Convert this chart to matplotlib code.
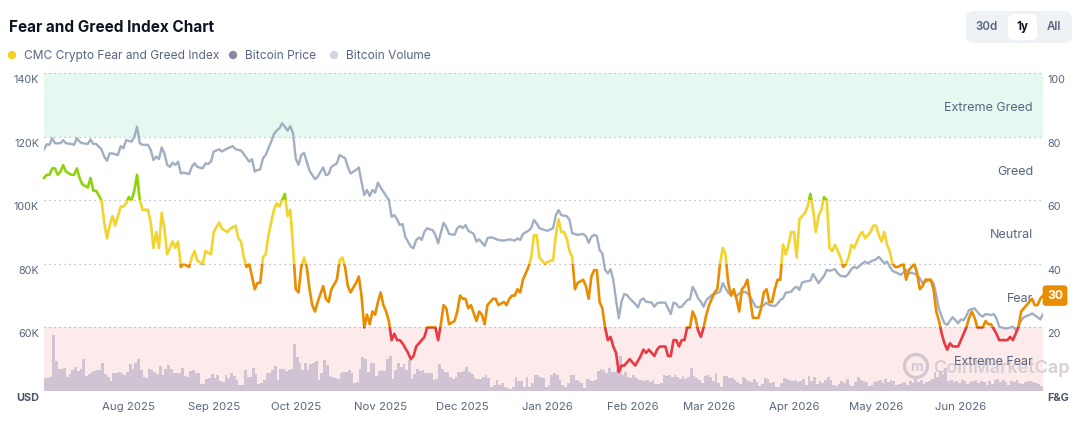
import matplotlib
matplotlib.use("Agg")
import matplotlib.pyplot as plt
import matplotlib.transforms as mtransforms
from matplotlib.patches import Rectangle, FancyBboxPatch, Circle, Ellipse
import pandas as pd

plt.rcParams['font.family'] = ['Inter', 'DejaVu Sans']

# ---------------- data ----------------
START = "2025-07-01"
END = "2026-07-01"

FG_DAY = [0, 1, 2, 3, 4, 5, 6, 7, 8, 10, 11, 12, 13, 14, 16, 17, 18, 19, 21, 22, 23, 24, 25, 26, 28, 29, 30, 31, 32, 33,
          34, 35, 36, 38, 39, 40, 41, 42, 43, 44, 45, 47, 48, 49, 50, 51, 53, 54, 55, 56, 58, 59, 61, 62, 64, 65, 67, 68,
          70, 71, 72, 73, 74, 75, 77, 78, 79, 80, 81, 82, 84, 85, 86, 87, 88, 89, 90, 91, 92, 93, 94, 95, 96, 97, 98, 99,
          100, 102, 103, 104, 105, 107, 108, 109, 110, 111, 112, 114, 115, 116, 117, 118, 119, 120, 121, 122, 123, 124,
          125, 126, 127, 128, 129, 130, 131, 133, 134, 135, 136, 137, 139, 140, 141, 143, 144, 145, 146, 147, 148, 150,
          151, 152, 153, 154, 155, 156, 158, 159, 160, 161, 162, 163, 164, 165, 166, 168, 169, 170, 171, 172, 173, 174,
          175, 177, 178, 179, 180, 181, 182, 183, 185, 186, 187, 188, 189, 190, 191, 192, 193, 194, 195, 197, 198, 199,
          200, 201, 202, 203, 204, 205, 206, 207, 208, 209, 210, 211, 212, 213, 214, 215, 216, 218, 219, 220, 221, 222,
          223, 224, 225, 227, 228, 229, 230, 231, 232, 233, 234, 235, 236, 237, 238, 239, 240, 241, 242, 243, 244, 245,
          246, 247, 248, 249, 250, 251, 252, 253, 254, 255, 256, 257, 258, 259, 260, 261, 262, 263, 264, 265, 266, 267,
          268, 269, 270, 271, 272, 273, 274, 275, 276, 277, 278, 279, 280, 281, 282, 283, 284, 285, 286, 287, 288, 289,
          291, 292, 293, 294, 295, 296, 297, 298, 299, 300, 301, 302, 303, 304, 305, 306, 307, 308, 309, 310, 311, 312,
          314, 315, 316, 317, 318, 319, 320, 321, 322, 324, 325, 326, 327, 328, 329, 330, 331, 332, 334, 335, 336, 337,
          338, 339, 340, 341, 343, 344, 345, 346, 348, 349, 351, 352, 353, 354, 355, 356, 357, 358, 359, 360, 361, 362,
          363, 364, 365]
FG_VAL = [67, 68, 68, 70, 70, 68, 69, 71, 69, 68, 68, 70, 67, 65, 64, 67, 63, 63, 60, 53, 48, 52, 55, 52, 58, 58, 59, 61, 60, 63,
          68, 60, 57, 57, 53, 45, 50, 45, 56, 51, 43, 47, 45, 47, 39, 40, 39, 42, 44, 41, 40, 44, 43, 50, 53, 51, 50, 51,
          52, 48, 47, 42, 39, 40, 32, 34, 34, 42, 43, 49, 57, 59, 58, 60, 62, 55, 57, 45, 32, 31, 39, 42, 39, 32, 27, 25,
          28, 33, 29, 28, 32, 35, 41, 42, 39, 33, 31, 34, 36, 30, 20, 24, 21, 25, 24, 28, 31, 27,
          25, 22, 16, 18, 16, 16, 15, 12, 10, 11, 14, 15, 17, 20, 20, 20, 16, 21, 27, 26, 21, 22,
          25, 30, 29, 29, 26, 27, 22, 25, 24, 21, 27, 28, 29, 29, 27, 28, 27, 29, 30, 30, 32, 31,
          35, 39, 42, 49, 49, 42, 41, 40, 41, 41, 49, 54, 50, 50, 48, 44, 42, 32, 34, 35, 33, 29,
          36, 38, 38, 28, 26, 20, 16, 17, 14, 12, 6, 8, 8, 9, 10, 9, 8, 11, 13, 12, 13, 12,
          11, 13, 14, 14, 11, 11, 16, 16, 14, 16, 16, 20, 20, 25, 23, 19, 17, 20, 24, 27, 29, 31,
          32, 40, 45, 43, 34, 30, 32, 29, 25, 32, 33, 35, 29, 23, 23, 23, 26, 31, 32, 28, 28, 32,
          35, 35, 46, 43, 46, 50, 50, 42, 54, 55, 56, 58, 62, 57, 50, 55, 57, 61, 60, 45, 44, 46,
          42, 39, 40, 42, 46, 45, 47, 49, 50, 48, 49, 50, 52, 52, 49, 47, 50, 46, 44, 40, 39, 39,
          40, 35, 38, 39, 40, 37, 32, 33, 35, 35, 32, 25, 22, 18, 15, 13, 15, 14, 14, 16, 18, 20,
          23, 25, 23, 20, 20, 22, 21, 21, 18, 16, 16, 16, 17, 16, 18, 20, 25, 26, 27, 28, 29, 27,
          27, 29, 30]

PRICE_DAY = [0, 1, 2, 3, 4, 6, 7, 8, 10, 11, 12, 13, 14, 16, 17, 18, 19, 21, 22, 23, 24, 25, 27, 28, 29, 30, 32, 33, 34, 35,
             36, 38, 39, 40, 41, 42, 43, 44, 45, 46, 47, 48, 49, 50, 51, 53, 54, 55, 56, 58, 59, 60, 61, 62, 64, 65, 67,
             69, 70, 72, 73, 75, 76, 77, 78, 79, 80, 81, 83, 84, 85, 86, 87, 88, 89, 90, 91, 92, 93, 94, 95, 96, 97, 99,
             100, 102, 103, 104, 105, 107, 108, 110, 111, 112, 114, 115, 116, 117, 118, 119, 120, 121, 122, 123, 125,
             126, 127, 128, 129, 130, 131, 132, 134, 135, 136, 137, 138, 139, 140, 141, 142, 143, 144, 145, 146, 147,
             148, 150, 151, 152, 153, 154, 155, 157, 158, 159, 161, 162, 163, 164, 166, 168, 170, 172, 173, 174, 175,
             177, 178, 179, 180, 181, 183, 184, 186, 187, 188, 189, 191, 192, 193, 195, 197, 198, 199, 200, 201, 202,
             203, 204, 205, 206, 207, 208, 209, 210, 211, 212, 213, 214, 216, 217, 218, 219, 220, 222, 223, 224, 225,
             227, 228, 229, 230, 231, 232, 233, 235, 236, 237, 238, 239, 240, 241, 242, 244, 245, 247, 248, 250, 251,
             252, 253, 254, 256, 257, 258, 260, 261, 263, 264, 265, 267, 268, 269, 270, 271, 273, 274, 275, 276, 277,
             278, 280, 281, 283, 284, 285, 286, 287, 289, 290, 291, 293, 294, 295, 296, 297, 299, 300, 301, 302, 304,
             305, 306, 307, 308, 309, 310, 312, 313, 315, 316, 317, 319, 320, 321, 323, 324, 325, 326, 327, 328, 329,
             330, 331, 332, 334, 335, 336, 337, 338, 340, 341, 342, 343, 344, 346, 347, 348, 349, 351, 352, 354, 355,
             356, 357, 358, 360, 361, 363, 364, 365]
PRICE_K = [116.0, 117.6, 117.4, 119.5, 117.9, 117.9, 118.9, 117.9, 117.7, 117.4, 119.5, 118.4, 117.9, 117.7, 119.1, 117.7,
           117.7, 116.0, 113.7, 112.4, 114.7, 114.7, 114.2, 117.0, 116.3, 118.9, 118.4, 120.0, 123.1, 117.9,
           117.4, 117.4, 115.8, 112.6, 113.7, 112.9, 116.6, 114.7, 111.1, 110.5, 111.8, 111.1, 112.1, 108.4, 108.7,
           108.2, 110.5, 111.6, 110.5, 110.0, 111.6, 111.4, 112.1, 115.3, 116.0, 115.3, 116.3,
           117.0, 116.0, 115.6, 114.5, 112.1, 112.9, 109.0, 109.5, 109.7, 113.2, 114.2, 118.4, 120.8, 121.9, 122.6,
           124.2, 123.1, 121.9, 123.3, 121.0, 113.0, 111.1, 114.2, 114.9, 112.1, 109.3, 106.6,
           107.4, 110.3, 107.9, 108.2, 110.5, 111.6, 114.2, 113.2, 110.5, 108.4, 109.5, 110.3, 105.8, 101.6, 103.2,
           101.3, 103.2, 102.4, 105.5, 104.0, 101.3,
           100.1, 94.8, 95.3, 94.0, 92.2, 92.5, 88.5, 85.4, 84.9, 87.5, 88.3, 87.5, 90.1, 91.2, 90.8, 90.6, 89.1,
           86.4, 89.8, 92.9, 91.5,
           89.4, 89.1, 91.2, 91.9, 91.2, 92.2, 90.4, 89.4, 87.0, 87.7, 85.6, 88.0, 88.3, 88.2, 87.5, 87.3, 87.7,
           87.3, 88.0, 87.5, 89.4,
           90.4, 91.2, 93.8, 92.7, 91.2, 90.6, 90.4, 91.2, 95.3, 96.9, 95.3, 95.0, 93.8, 89.6, 89.1, 89.4, 88.7,
           86.6, 88.5, 89.1, 88.7,
           84.3, 83.3, 78.1, 77.0, 78.3, 74.9, 68.6, 62.9, 68.1, 70.5, 70.2, 69.1, 67.4, 66.3, 68.6, 69.1, 68.1,
           67.8, 66.5, 67.6, 67.8,
           67.8, 66.0, 64.2, 67.8, 67.4, 66.3, 66.5, 68.6, 68.8, 72.8, 71.2, 69.1, 68.1, 66.5, 68.6, 70.2, 70.5,
           71.2, 73.9, 70.9, 70.2,
           70.7, 69.7, 70.7, 71.2, 70.7, 69.7, 66.5, 66.3, 67.0, 67.8, 67.0, 66.7, 67.4, 68.6, 69.1, 70.9, 71.2,
           72.3, 72.8, 71.8, 74.1,
           74.4, 74.7, 76.8, 73.9, 75.1, 76.2, 78.1, 77.8, 78.3, 77.0, 76.2, 76.0, 77.0, 78.3, 79.1, 78.6, 80.1,
           80.7, 80.1, 80.7, 81.4,
           82.2, 81.2, 80.1, 80.7, 79.1, 77.8, 77.0, 76.5, 78.1, 77.0, 77.2, 76.5, 75.4, 73.9, 74.7, 74.9, 73.9,
           70.2, 65.7, 63.4, 61.3,
           60.8, 62.1, 63.2, 61.3, 62.5, 62.3, 63.6, 65.5, 66.0, 64.9, 63.9, 63.4, 64.2, 63.9, 64.2, 62.9, 60.2,
           59.7, 59.7, 60.2, 59.2,
           60.2, 62.1, 63.2, 63.9, 64.4, 63.2, 62.5, 64.2]

# daily Bitcoin volume (billion USD), one value per day from START
VOLUME_Q3_2025 = [19, 20, 21.5, 84, 45, 32.5, 32.5, 34, 21.5, 25.5, 31.5, 35.5, 30, 32.5, 48, 22.5, 25, 28.5, 30, 31.5,
                  31.5, 41.5, 25.5, 21.5, 15, 27.5, 26.5, 28.5, 27.5, 23.5, 28, 40.5, 33, 42, 48, 31.5, 20.5, 19.5,
                  33, 31.5, 29, 25, 37.5, 24, 33, 38.5, 32.5, 27.5, 26.5, 26.5, 34.5, 22.5, 21.5, 30, 31.5, 27.5,
                  27.5, 10.5, 10.5, 17.5, 19, 25, 19, 24, 15.5, 14, 24.5, 20, 27.5, 22.5, 16.5, 9, 9, 31.5, 21.5,
                  21.5, 34, 25.5, 10.5, 12.5, 16.5, 27.5, 27.5, 31.5, 37.5, 16.5, 33, 33, 30.5, 31.5, 32.5, 70.5]
VOLUME_Q4_2025 = [50.5, 41.5, 31.5, 42.5, 31.5, 40.5, 41.5, 45, 16.5, 27.5, 46.5, 39, 22.5, 21.5, 20, 18, 26.5, 28,
                  28.5, 31.5, 27.5, 11.5, 14, 32.5, 51.5, 47.5, 29, 42.5, 41.5, 22.5, 29.5, 31.5, 30.5, 47.5, 52.5,
                  17.5, 31.5, 41.5, 35.5, 40.5, 31.5, 46.5, 17.5, 25.5, 32.5, 30.5, 31.5, 26.5, 27.5, 26.5, 16.5,
                  17.5, 40.5, 33, 29, 29, 21.5, 17.5, 21.5, 29, 28, 30.5, 35.5, 29, 25.5, 19, 17.5, 17.5, 21.5, 24,
                  19, 5.5, 9, 16.5, 9, 11.5, 6.5, 4, 2.5, 5.5, 20.5, 15.5, 15, 5.5, 21.5, 5.5, 11.5, 24, 24, 21.5, 19]
VOLUME_Q1_2026 = [5.5, 9, 24, 26.5, 24, 16.5, 9, 5.5, 11.5, 24, 24, 16.5, 15.5, 11.5, 4, 17.5, 16.5, 15.5, 16.5, 30,
                  32.5, 31.5, 26.5, 34, 29, 29, 32.5, 52.5, 24, 29, 21.5, 19, 24, 19, 16.5, 16.5, 15.5, 16.5, 14,
                  16.5, 10.5, 10.5, 12.5, 24, 22.5, 24, 21.5, 24, 21.5, 17.5, 22.5, 17.5, 21.5, 34, 22.5, 19, 16.5,
                  11.5, 22.5, 24, 21.5, 15.5, 26.5, 11.5, 5.5, 22.5, 22.5, 19, 19, 16.5, 14, 10.5, 21.5, 17.5, 15.5,
                  14, 17.5, 14, 7.5, 10.5, 19, 17.5, 11.5, 14, 5.5, 6.5, 11.5, 19, 17.5, 16.5, 15.5, 16.5]
VOLUME_Q2_2026 = [13, 15.5, 18, 9.5, 23, 15.5, 20.5, 10.5, 15.5, 11.5, 16.5, 20.5, 16.5, 9.5, 8, 10.5, 15.5, 11.5,
                  18, 9.5, 8, 13, 20.5, 16.5, 15.5, 13, 8, 9.5, 13, 14.5, 16.5, 11.5, 18, 13, 16.5, 15.5, 9.5,
                  10.5, 11.5, 13, 9.5, 14.5, 11.5, 18, 13, 16.5, 10.5, 13, 15.5, 18, 28, 21.5, 30.5, 25.5, 34.5,
                  15.5, 16.5, 13, 15.5, 11.5, 16.5, 14.5, 10.5, 13, 15.5, 16.5, 11.5, 15.5, 13, 9.5, 15.5, 10.5,
                  16.5, 18, 13, 16.5, 13, 9.5, 15.5, 13, 16.5, 11.5, 10.5, 13, 15.5, 14.5, 13, 11.5, 10.5, 8]

MONTH_TICKS = ["2025-08-01", "2025-09-01", "2025-10-01", "2025-11-01", "2025-12-01", "2026-01-01",
               "2026-02-01", "2026-03-01", "2026-04-01", "2026-05-01", "2026-06-01"]
MONTH_LABELS = ["Aug 2025", "Sep 2025", "Oct 2025", "Nov 2025", "Dec 2025", "Jan 2026",
                "Feb 2026", "Mar 2026", "Apr 2026", "May 2026", "Jun 2026"]
USD_TICKS = [40, 60, 80, 100, 120, 140]
USD_LABELS = ["USD", "60K", "80K", "100K", "120K", "140K"]
FG_TICKS = [0, 20, 40, 60, 80, 100]
FG_LABELS = ["F&G", "20", "40", "60", "80", "100"]
ZONE_BOUNDS = [0, 20, 40, 60, 80, 100]
ZONE_NAMES = ["Extreme Fear", "Fear", "Neutral", "Greed", "Extreme Greed"]
ZONE_LINE_COLORS = ["#ea3943", "#ea8c00", "#f3d42f", "#8fd40a", "#16c784"]

# ---------------- styling ----------------
W, H = 1082, 432
TXT = "#58667e"
fig = plt.figure(figsize=(W / 100, H / 100), dpi=100)
fig.patch.set_facecolor("white")

L, R, T, B = 44, 1043, 73, 391
rect = [L / W, 1 - B / H, (R - L) / W, (B - T) / H]

start = pd.Timestamp(START)
end = pd.Timestamp(END)
fg_x = start + pd.to_timedelta(FG_DAY, unit="D")
price_x = start + pd.to_timedelta(PRICE_DAY, unit="D")
volume = VOLUME_Q3_2025 + VOLUME_Q4_2025 + VOLUME_Q1_2026 + VOLUME_Q2_2026
vol_x = pd.date_range(start, periods=len(volume), freq="D")

ax_bg = fig.add_axes(rect)
ax_vol = fig.add_axes(rect, sharex=ax_bg)
ax_price = fig.add_axes(rect, sharex=ax_bg)
ax_fg = fig.add_axes(rect, sharex=ax_bg)
for a in (ax_bg, ax_vol, ax_price, ax_fg):
    for s in a.spines.values():
        s.set_visible(False)
    a.tick_params(left=False, right=False, bottom=False, top=False,
                  labelleft=False, labelbottom=False)
    a.set_yticks([])
for a in (ax_vol, ax_price, ax_fg):
    a.patch.set_visible(False)

ax_bg.set_xlim(start, end)
ax_bg.set_ylim(0, 100)
ax_fg.set_ylim(0, 100)
ax_price.set_ylim(USD_TICKS[0], USD_TICKS[-1])
ax_vol.set_ylim(0, 477)

# zones
ax_bg.axhspan(80, 100, color="#e7f8f1", lw=0, zorder=0)
ax_bg.axhspan(0, 20, color="#fdeaea", lw=0, zorder=0)
for v in FG_TICKS:
    ax_bg.axhline(v, color="#aab2bf", lw=0.9, ls=(0, (1, 3)), zorder=1)

# watermark
ax_bg.add_patch(Ellipse(((916 - L) / (R - L), (B - 366) / (B - T)), 23 / (R - L), 23 / (B - T),
                        transform=ax_bg.transAxes, fc="none", ec="#d3c8d0", lw=2.4, zorder=2))
ax_bg.text((916 - L) / (R - L), (B - 367) / (B - T), "m", transform=ax_bg.transAxes, ha="center", va="center",
           fontsize=10, color="#d3c8d0", fontweight="bold", zorder=2)
ax_bg.text((933 - L) / (R - L), (B - 368) / (B - T), "CoinMarketCap", transform=ax_bg.transAxes,
           ha="left", va="center", fontsize=13, color="#d8ced5", fontweight="semibold", zorder=2)

# zone labels
for lo, hi, name in zip(ZONE_BOUNDS[:-1], ZONE_BOUNDS[1:], ZONE_NAMES):
    ax_bg.text((1033 - L) / (R - L), (lo + hi) / 2 - 1, name,
               transform=mtransforms.blended_transform_factory(ax_bg.transAxes, ax_bg.transData),
               ha="right", va="center", fontsize=9, color=TXT, zorder=3)

# volume bars
ax_vol.bar(vol_x, volume, width=1.0, align="edge", color="#d0c4d4", lw=0, zorder=1)

# price line
ax_price.plot(price_x, PRICE_K, color="#a2aec2", lw=1.7, zorder=2, solid_joinstyle="round")

# F&G line coloured by zone (clip the same line to each band)
for lo, hi, col in zip(ZONE_BOUNDS[:-1], ZONE_BOUNDS[1:], ZONE_LINE_COLORS):
    line, = ax_fg.plot(fg_x, FG_VAL, color=col, lw=1.9, zorder=3, solid_joinstyle="round")
    clip = Rectangle((-1e6, lo), 3e6, hi - lo, transform=ax_fg.transData)
    line.set_clip_path(clip)

# y labels (left USD, right F&G), positioned just below the grid lines
lt = mtransforms.offset_copy(mtransforms.blended_transform_factory(ax_price.transAxes, ax_price.transData),
                             fig=fig, x=-5, y=-7, units="dots")
for v, lab in zip(USD_TICKS, USD_LABELS):
    ax_price.text(0, v, lab, transform=lt, ha="right", va="center", fontsize=7.8,
                  color="#4a5568" if lab == "USD" else TXT,
                  fontweight="bold" if lab == "USD" else "normal")
rt = mtransforms.offset_copy(mtransforms.blended_transform_factory(ax_fg.transAxes, ax_fg.transData),
                             fig=fig, x=4, y=-7, units="dots")
for v, lab in zip(FG_TICKS, FG_LABELS):
    ax_fg.text(1, v, lab, transform=rt, ha="left", va="center", fontsize=7.8,
               color="#4a5568" if lab == "F&G" else TXT,
               fontweight="bold" if lab == "F&G" else "normal")

# month labels
xt = mtransforms.offset_copy(mtransforms.blended_transform_factory(ax_bg.transData, ax_bg.transAxes),
                             fig=fig, x=0, y=-16, units="dots")
for d, lab in zip(MONTH_TICKS, MONTH_LABELS):
    ax_bg.text(pd.Timestamp(d), 0, lab, transform=xt, ha="center", va="center", fontsize=8.2, color=TXT)

# latest value badge
bt = mtransforms.offset_copy(mtransforms.blended_transform_factory(ax_fg.transAxes, ax_fg.transData),
                             fig=fig, x=12, y=0, units="dots")
ax_fg.text(1, FG_VAL[-1], str(FG_VAL[-1]), transform=bt, ha="center", va="center", fontsize=8.8,
           color="white", fontweight="bold", zorder=5, clip_on=False,
           bbox=dict(boxstyle="round,pad=0.35,rounding_size=0.25", fc="#ea8c00", ec="none"))

# title & legend
fig.text(9 / W, 1 - 27 / H, "Fear and Greed Index Chart", ha="left", va="center",
         fontsize=11, fontweight="bold", color="#0d1421")
ident = mtransforms.IdentityTransform()
legend_items = [(12, "#f5d123", "CMC Crypto Fear and Greed Index"),
                (233, "#858ca2", "Bitcoin Price"),
                (334, "#cfd6e4", "Bitcoin Volume")]
for x0, col, lab in legend_items:
    fig.add_artist(Circle((x0, H - 55), 4.2, transform=ident, fc=col, ec="none"))
    fig.text((x0 + 12) / W, 1 - 56 / H, lab, ha="left", va="center", fontsize=8.6, color=TXT)

# range buttons
fig.add_artist(FancyBboxPatch((966, H - 43), 106, 32, boxstyle="round,pad=0,rounding_size=8",
                              transform=ident, fc="#eff2f5", ec="none"))
fig.add_artist(FancyBboxPatch((1008, H - 40), 29, 26, boxstyle="round,pad=0,rounding_size=6",
                              transform=ident, fc="white", ec="none"))
for xc, lab, bold in [(986.5, "30d", False), (1022.5, "1y", True), (1054, "All", False)]:
    fig.text(xc / W, 1 - 27 / H, lab, ha="center", va="center", fontsize=8.3,
             color="#0d1421" if bold else TXT, fontweight="bold" if bold else "semibold")

fig.savefig("out.png", dpi=100)
